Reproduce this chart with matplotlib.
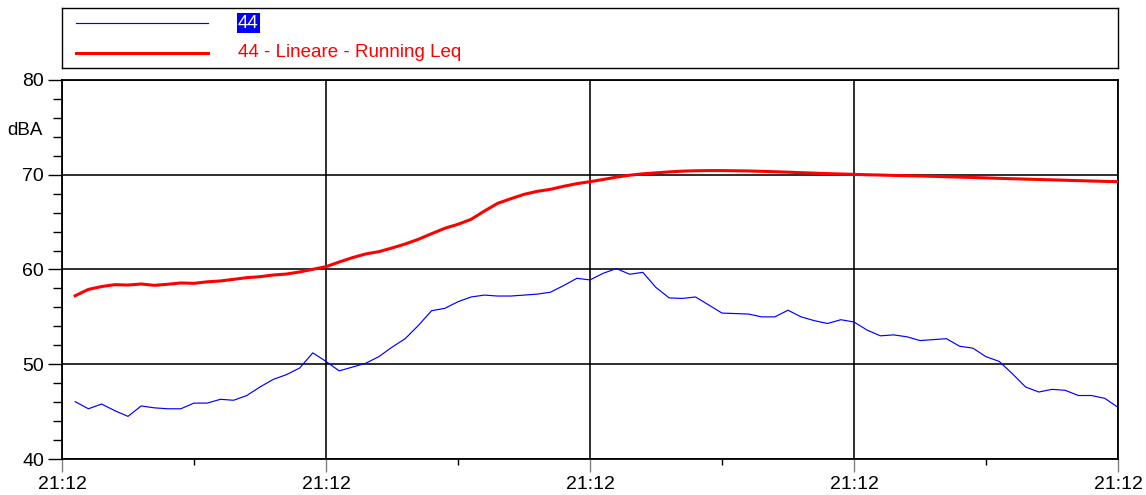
#!/usr/bin/env python3
"""Sound level chart: sample level and running Leq (dBA)."""

import matplotlib

matplotlib.use("Agg")

import matplotlib.pyplot as plt
from matplotlib.ticker import FixedLocator, MultipleLocator

plt.rcParams["font.family"] = ["Liberation Sans", "DejaVu Sans"]

# sample index (1..80), axis runs 0..80
SAMPLE_INDEX = list(range(1, 81))

LEVEL_44 = [
    46.05, 45.3, 45.8, 45.1, 44.5, 45.6, 45.4, 45.3, 45.3, 45.9,
    45.9, 46.3, 46.2, 46.7, 47.6, 48.4, 48.9, 49.6, 51.2, 50.3,
    49.3, 49.7, 50.1, 50.8, 51.8, 52.7, 54.1, 55.65, 55.9, 56.6,
    57.1, 57.3, 57.2, 57.2, 57.3, 57.4, 57.6, 58.3, 59.07, 58.9,
    59.6, 60.1, 59.5, 59.7, 58.1, 57.0, 56.95, 57.1, 56.25, 55.4,
    55.35, 55.3, 55.0, 55.0, 55.7, 55.0, 54.6, 54.3, 54.7, 54.46,
    53.6, 53.0, 53.1, 52.9, 52.5, 52.6, 52.7, 51.9, 51.7, 50.8,
    50.3, 49.0, 47.6, 47.07, 47.35, 47.25, 46.7, 46.7, 46.4, 45.45,
]

RUNNING_LEQ = [
    57.23, 57.9, 58.2, 58.4, 58.36, 58.47, 58.33, 58.44, 58.58, 58.54,
    58.7, 58.79, 58.96, 59.14, 59.24, 59.42, 59.52, 59.74, 60.02, 60.3,
    60.79, 61.25, 61.64, 61.88, 62.27, 62.69, 63.19, 63.78, 64.35, 64.77,
    65.3, 66.17, 66.98, 67.47, 67.93, 68.25, 68.46, 68.78, 69.06, 69.27,
    69.5, 69.75, 69.95, 70.1, 70.2, 70.3, 70.38, 70.42, 70.44, 70.44,
    70.42, 70.4, 70.36, 70.32, 70.27, 70.22, 70.17, 70.12, 70.08, 70.04,
    70.0, 69.97, 69.93, 69.9, 69.87, 69.83, 69.79, 69.75, 69.71, 69.67,
    69.62, 69.58, 69.54, 69.5, 69.46, 69.42, 69.38, 69.34, 69.3, 69.27,
]

X_MAJOR = [0, 20, 40, 60, 80]
X_LABELS = ["21:12", "21:12", "21:12", "21:12", "21:12"]
Y_MAJOR = [40, 50, 60, 70, 80]

SERIES_NAMES = ["44", "44 - Lineare - Running Leq"]
BLUE = "#0000ff"
RED = "#ff0000"

W, H = 1146, 495


def main() -> None:
    fig = plt.figure(figsize=(W / 100, H / 100), dpi=100)
    fig.patch.set_facecolor("white")

    ax = fig.add_axes([62 / W, 36 / H, 1056 / W, 379 / H])
    ax.plot(SAMPLE_INDEX, LEVEL_44, color=BLUE, linewidth=0.85, zorder=3)
    ax.plot(SAMPLE_INDEX, RUNNING_LEQ, color=RED, linewidth=2.2, zorder=4)

    ax.set_xlim(0, 80)
    ax.set_ylim(40, 80)
    ax.xaxis.set_major_locator(FixedLocator(X_MAJOR))
    ax.set_xticks(X_MAJOR)
    ax.set_xticklabels(X_LABELS)
    ax.xaxis.set_minor_locator(MultipleLocator(10))
    ax.set_yticks(Y_MAJOR)
    ax.yaxis.set_minor_locator(MultipleLocator(2))

    ax.grid(which="major", color="black", linewidth=1.15)
    ax.set_axisbelow(True)
    for spine in ax.spines.values():
        spine.set_color("black")
        spine.set_linewidth(1.3)

    ax.tick_params(axis="x", which="major", direction="out", length=9.5,
                   width=1.0, color="#808080", pad=2.5, labelsize=14)
    ax.tick_params(axis="x", which="minor", direction="out", length=4.5,
                   width=1.0, color="black")
    ax.tick_params(axis="y", which="major", direction="out", length=10,
                   width=1.0, color="black", pad=3, labelsize=14)
    ax.tick_params(axis="y", which="minor", direction="out", length=6.5,
                   width=1.0, color="black")

    ax.text(-0.018, 0.868, "dBA", transform=ax.transAxes, ha="right",
            va="center", fontsize=13.5)

    # legend box across the top
    leg = fig.add_axes([62 / W, 427 / H, 1056 / W, 60 / H])
    leg.set_xlim(0, 1056)
    leg.set_ylim(60, 0)
    leg.set_xticks([])
    leg.set_yticks([])
    for spine in leg.spines.values():
        spine.set_color("black")
        spine.set_linewidth(1.0)
    leg.plot([14, 146], [15.3, 15.3], color=BLUE, linewidth=0.85)
    leg.plot([14, 146], [44.7, 44.7], color=RED, linewidth=2.2)
    leg.text(176, 15.3, SERIES_NAMES[0], color="white", fontsize=13.5,
             va="center", ha="left",
             bbox=dict(facecolor=BLUE, edgecolor="none", pad=1.0))
    leg.text(176, 44.7, SERIES_NAMES[1], color=RED, fontsize=13.5,
             va="center", ha="left")

    fig.savefig("out.png", dpi=100, facecolor=fig.get_facecolor())
    plt.close(fig)


if __name__ == "__main__":
    main()
